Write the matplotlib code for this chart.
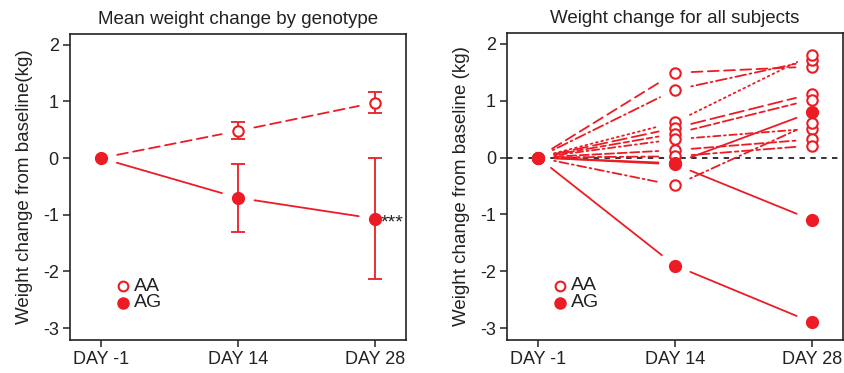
#!/usr/bin/env python3
"""
Weight change by genotype: group means (left) and individual subjects (right).
"""
import matplotlib
matplotlib.use("Agg")
import matplotlib.pyplot as plt

# Data
DAYS = ["DAY -1", "DAY 14", "DAY 28"]

AA_MEAN = [0.0, 0.48, 0.98]
AA_LOW = [0.0, 0.33, 0.80]
AA_HIGH = [0.0, 0.63, 1.16]

AG_MEAN = [0.0, -0.70, -1.07]
AG_LOW = [0.0, -1.30, -2.13]
AG_HIGH = [0.0, -0.10, 0.0]

# individual subjects (day -1, day 14, day 28)
AA_SUBJECTS = [
    [0.0, 1.49, 1.60],
    [0.0, 1.19, 1.71],
    [0.0, 0.62, 1.81],
    [0.0, 0.52, 1.12],
    [0.0, 0.42, 1.02],
    [0.0, 0.32, 0.51],
    [0.0, 0.13, 0.32],
    [0.0, 0.02, 0.21],
    [0.0, -0.49, 0.61],
]
AG_SUBJECTS = [
    [0.0, -0.10, 0.80],
    [0.0, -0.12, -1.10],
    [0.0, -1.90, -2.90],
]

# Style
RED = '#ED1C24'
INK = '#222222'
GAP = 12  # points left blank around each marker (R type="b")
DASHES = [
    (0, (6, 3)),
    (0, (1, 2, 6, 2)),
    (0, (1, 2)),
    (0, (8, 3)),
    (0, (3, 2, 6, 2)),
    (0, (1, 2, 4, 2)),
    (0, (5, 2)),
    (0, (2, 2, 6, 2)),
    (0, (1, 2, 5, 2)),
]
plt.rcParams['font.family'] = ['Liberation Sans', 'DejaVu Sans']


def gapped_line(ax, xs, ys, ls, lw=1.3):
    """Draw segments between points, leaving a gap around each point."""
    for i in range(len(xs) - 1):
        ax.annotate('', xy=(xs[i + 1], ys[i + 1]), xytext=(xs[i], ys[i]),
                    arrowprops=dict(arrowstyle='-', color=RED, lw=lw,
                                    linestyle=ls, shrinkA=GAP, shrinkB=GAP))


def style_axes(ax, ylabel, title):
    ax.set_xlim(0.775, 3.225)
    ax.set_ylim(-3.21, 2.19)
    ax.set_xticks([1, 2, 3])
    ax.set_xticklabels(DAYS)
    ax.set_yticks([-3, -2, -1, 0, 1, 2])
    ax.set_yticklabels(['-3', '-2', '-1', '0', '1', '2'])
    ax.tick_params(direction='out', length=5, width=1.1, labelsize=13,
                   colors=INK, pad=3)
    for sp in ax.spines.values():
        sp.set_linewidth(1.2)
        sp.set_color(INK)
    ax.set_ylabel(ylabel, fontsize=13.5, color=INK, labelpad=7)
    ax.set_title(title, fontsize=13.5, color=INK, pad=7)


def draw_legend(ax):
    ax.plot(0.158, 0.176, 'o', transform=ax.transAxes, ms=7, mfc='white',
            mec=RED, mew=1.5)
    ax.plot(0.158, 0.121, 'o', transform=ax.transAxes, ms=8, color=RED)
    ax.text(0.19, 0.176, 'AA', transform=ax.transAxes, fontsize=14,
            va='center', color=INK)
    ax.text(0.19, 0.121, 'AG', transform=ax.transAxes, fontsize=14,
            va='center', color=INK)


fig = plt.figure(figsize=(8.45, 3.73), dpi=100)
ax1 = fig.add_axes([0.0828, 0.0885, 0.3977, 0.8204])
ax2 = fig.add_axes([0.6000, 0.0885, 0.3976, 0.8230])

x = [1, 2, 3]

# Left: means with error bars
style_axes(ax1, 'Weight change from baseline(kg)', 'Mean weight change by genotype')
gapped_line(ax1, x, AA_MEAN, (0, (6, 3)))
gapped_line(ax1, x, AG_MEAN, '-')
for lows, highs in [(AA_LOW, AA_HIGH), (AG_LOW, AG_HIGH)]:
    for xi, lo, hi in zip(x[1:], lows[1:], highs[1:]):
        ax1.errorbar([xi], [(lo + hi) / 2], yerr=[[(hi - lo) / 2]], fmt='none',
                     ecolor=RED, elinewidth=1.3, capsize=5, capthick=1.3)
ax1.plot(x[1:], AA_MEAN[1:], 'o', ms=7.5, mfc='white', mec=RED, mew=1.5, zorder=5)
ax1.plot(x, AG_MEAN, 'o', ms=8.5, color=RED, zorder=5)
ax1.text(3.04, AG_MEAN[2] - 0.08, '***', fontsize=14, va='center', color=INK)
draw_legend(ax1)

# Right: all subjects
style_axes(ax2, 'Weight change from baseline (kg)', 'Weight change for all subjects')
ax2.axhline(0, color=INK, lw=1.3, ls=(0, (3, 3)), zorder=1)
for subj, ls in zip(AA_SUBJECTS, DASHES):
    gapped_line(ax2, x, subj, ls)
for subj in AG_SUBJECTS:
    gapped_line(ax2, x, subj, '-')
for subj in AA_SUBJECTS:
    ax2.plot(x[1:], subj[1:], 'o', ms=7.5, mfc='white', mec=RED, mew=1.5, zorder=5)
for subj in AG_SUBJECTS:
    ax2.plot(x, subj, 'o', ms=8.5, color=RED, zorder=6)
draw_legend(ax2)

fig.savefig('out.png', dpi=100)
